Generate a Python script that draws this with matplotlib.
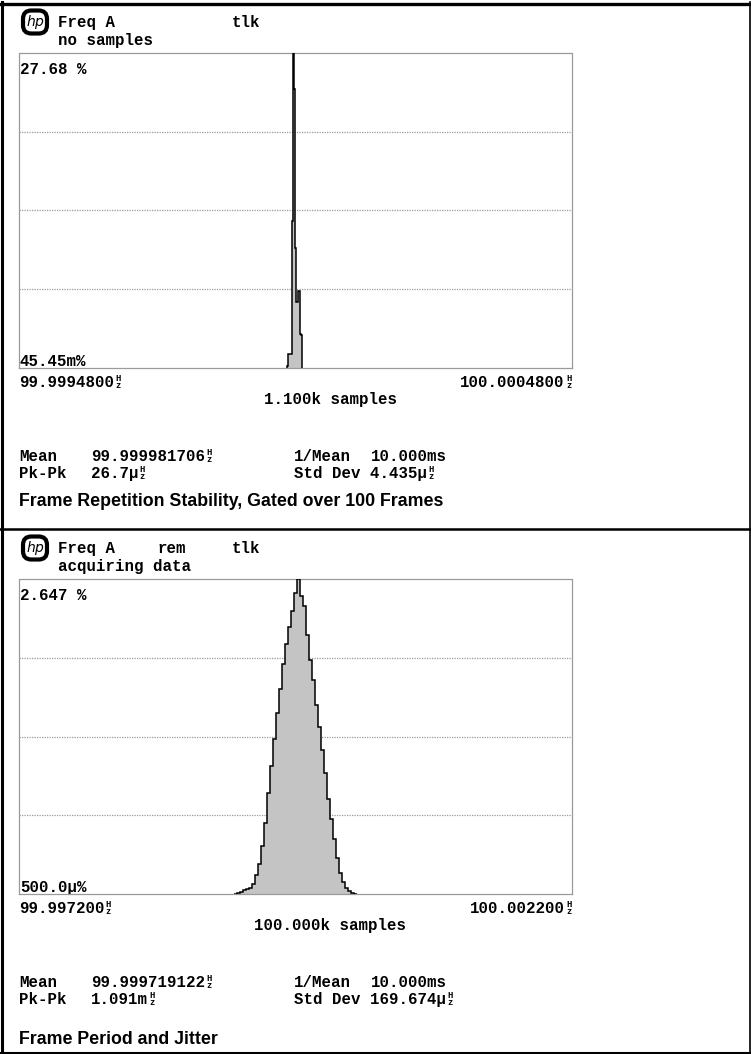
import matplotlib
matplotlib.use('Agg')
import matplotlib.pyplot as plt
from matplotlib import font_manager as fm
import numpy as np

def pick(fams):
    for f in fams:
        try:
            fm.findfont(fm.FontProperties(family=f), fallback_to_default=False)
            return f
        except Exception:
            pass
    return 'DejaVu Sans'

MONO = pick(['Liberation Mono', 'DejaVu Sans Mono'])
CAP = pick(['Liberation Sans Narrow', 'Liberation Sans', 'DejaVu Sans'])
CAP_SIZE = 15.0 if CAP == 'Liberation Sans Narrow' else 12.8

# ---------------- data: panel 1 ----------------
p1_status = 'no samples'
p1_flags = ['', 'tlk']
p1_ytop_label = '27.68 %'
p1_ybot_label = '45.45m%'
p1_xleft_label = '99.9994800'
p1_xright_label = '100.0004800'
p1_count_label = '1.100k samples'
p1_mean = '99.999981706'
p1_inv_mean = '10.000ms'
p1_pkpk = '26.7µ'
p1_std = '4.435µ'
p1_caption = 'Frame Repetition Stability, Gated over 100 Frames'
p1_xlim_uHz = [-520.0, 480.0]          # relative to 100 Hz
p1_ylim_pct = [0.04545, 27.68]
p1_bin_start_uHz = -36.3
p1_bin_width_uHz = 1.808
p1_heights_pct = [0.0, 0.26, 1.31, 1.31, 1.31, 1.31, 12.9, 27.68, 24.5, 10.6,
                  5.8, 5.8, 6.8, 6.8, 3.0, 2.9, 0.0]

# ---------------- data: panel 2 ----------------
p2_status = 'acquiring data'
p2_flags = ['rem', 'tlk']
p2_ytop_label = '2.647 %'
p2_ybot_label = '500.0µ%'
p2_xleft_label = '99.997200'
p2_xright_label = '100.002200'
p2_count_label = '100.000k samples'
p2_mean = '99.999719122'
p2_inv_mean = '10.000ms'
p2_pkpk = '1.091m'
p2_std = '169.674µ'
p2_caption = 'Frame Period and Jitter'
p2_xlim_uHz = [-2800.0, 2200.0]
p2_ylim_pct = [0.0005, 2.647]
p2_bin_start_uHz = -860.5
p2_bin_width_uHz = 27.13
p2_heights_pct = [0.004, 0.008, 0.017, 0.030, 0.042, 0.055, 0.085, 0.16, 0.25, 0.40,
                  0.60, 0.85, 1.08, 1.30, 1.52, 1.72, 1.93, 2.10, 2.24, 2.38,
                  2.53, 2.647, 2.50, 2.42, 2.18, 1.97, 1.80, 1.59, 1.40, 1.21,
                  1.02, 0.80, 0.63, 0.46, 0.30, 0.18, 0.10, 0.05, 0.025, 0.010,
                  0.004]

W, H = 751, 1054
fig = plt.figure(figsize=(W / 100, H / 100), dpi=100)
bg = fig.add_axes([0, 0, 1, 1])
bg.set_xlim(0, W)
bg.set_ylim(H, 0)
bg.axis('off')
renderer = fig.canvas.get_renderer()

FS = 11.3
HZS = 6.3
BL = 4.6          # centre -> baseline offset (px)
GRID = '#9a9a9a'
FILL = '#c4c4c4'

def mono(x, y, s, ha='left', size=FS):
    # y is the visual centre of capitals; align on the baseline so rows line up
    return bg.text(x, y + BL, s, fontfamily=MONO, fontweight='bold', fontsize=size,
                   ha=ha, va='baseline', color='black')

def hz_glyph(x, y):
    # stacked "H over z" unit glyph, one text object
    bg.text(x, y + 0.3, 'H\nz', fontfamily=MONO, fontweight='bold', fontsize=HZS,
            ha='left', va='center', linespacing=0.72, color='black')

def mono_hz(x, y, s, ha='left'):
    if ha == 'right':
        mono(x - 7.5, y, s, ha='right')
        hz_glyph(x - 6.0, y)
    else:
        t = mono(x, y, s)
        bb = t.get_window_extent(renderer=renderer)
        xe = bg.transData.inverted().transform((bb.x1, bb.y0))[0]
        hz_glyph(xe + 1.2, y)

def panel(T, status, flags, ytop, ybot, xl, xr, cnt, mean, inv, pk, sd, cap,
          xlim, ylim, start, width, heights, cap_dy):
    # header
    bg.text(35, T + 19, r'$\mathit{hp}$', fontsize=10, ha='center', va='center',
            fontweight='bold',
            bbox=dict(boxstyle='round,pad=0.18,rounding_size=0.6', fc='white',
                      ec='black', lw=3.0))
    mono(58, T + 19, 'Freq A')
    if flags[0]:
        mono(158, T + 19, flags[0])
    mono(232, T + 19, flags[1])
    mono(58, T + 37.5, status)

    top, bot = T + 50, T + 365
    ax = fig.add_axes([19 / W, 1 - bot / H, 553 / W, (bot - top) / H])
    ax.set_xlim(*xlim)
    ax.set_ylim(*ylim)
    edges = start + width * np.arange(len(heights) + 1)
    h = np.asarray(heights)
    ax.stairs(h, edges, baseline=0, fill=True, color=FILL, zorder=2)
    ax.stairs(h, edges, baseline=0, fill=False, color='black', lw=1.1, zorder=3)
    for f in (0.25, 0.5, 0.75):
        ax.axhline(ylim[0] + f * (ylim[1] - ylim[0]), color=GRID, lw=0.9,
                   ls=(0, (1, 1)), zorder=1)
    for s in ax.spines.values():
        s.set_color(GRID)
        s.set_linestyle((0, (1, 1)))
        s.set_linewidth(0.9)
    ax.set_xticks([])
    ax.set_yticks([])
    ax.patch.set_alpha(0)

    mono(20, T + 66, ytop)
    mono(20, T + 358, ybot)
    mono_hz(19, T + 379, xl)
    mono_hz(572, T + 379, xr, ha='right')
    mono(330, T + 396, cnt, ha='center')
    mono(19, T + 453, 'Mean')
    mono_hz(91, T + 453, mean)
    mono(294, T + 453, '1/Mean')
    mono(371, T + 453, inv)
    mono(19, T + 470, 'Pk-Pk')
    mono_hz(91, T + 470, pk)
    mono_hz(294, T + 470, 'Std Dev ' + sd)
    bg.text(19, T + cap_dy, cap, fontfamily=CAP, fontweight='bold',
            fontsize=CAP_SIZE, ha='left', va='center', color='black')

panel(3, p1_status, p1_flags, p1_ytop_label, p1_ybot_label, p1_xleft_label,
      p1_xright_label, p1_count_label, p1_mean, p1_inv_mean, p1_pkpk, p1_std,
      p1_caption, p1_xlim_uHz, p1_ylim_pct, p1_bin_start_uHz, p1_bin_width_uHz,
      p1_heights_pct, 499)
panel(529, p2_status, p2_flags, p2_ytop_label, p2_ybot_label, p2_xleft_label,
      p2_xright_label, p2_count_label, p2_mean, p2_inv_mean, p2_pkpk, p2_std,
      p2_caption, p2_xlim_uHz, p2_ylim_pct, p2_bin_start_uHz, p2_bin_width_uHz,
      p2_heights_pct, 511)

# outer frame and separator
bg.plot([1.5, 1.5], [2, 1053], color='black', lw=2.2)
bg.plot([749.5, 749.5], [2, 1053], color='black', lw=1.2)
bg.plot([0, W], [3.5, 3.5], color='black', lw=2.4)
bg.plot([0, W], [529, 529], color='black', lw=1.8)
bg.plot([0, W], [1052.5, 1052.5], color='black', lw=1.5)

fig.savefig('out.png', dpi=100)
